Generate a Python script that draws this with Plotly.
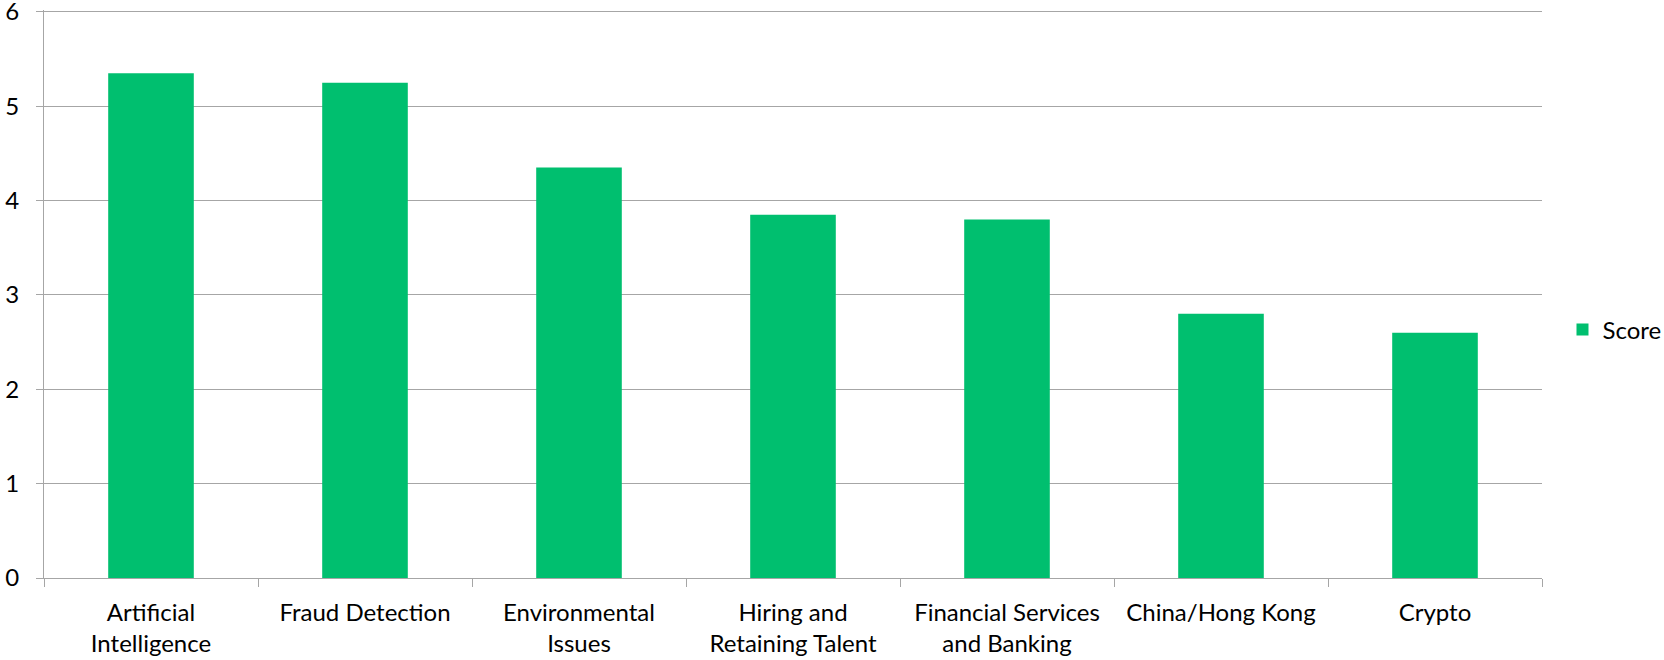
import plotly.graph_objects as go

categories = ["Artificial<br>Intelligence", "Fraud Detection", "Environmental<br>Issues",
              "Hiring and<br>Retaining Talent", "Financial Services<br>and Banking",
              "China/Hong Kong", "Crypto"]
scores = [5.35, 5.25, 4.35, 3.85, 3.8, 2.8, 2.6]
y_ticks = [0, 1, 2, 3, 4, 5, 6]

FONT = "Lato, Calibri, Carlito, sans-serif"
FS = 24

fig = go.Figure()
fig.add_trace(go.Bar(x=categories, y=scores, name="Score",
                     marker=dict(color="#00BF6F", line=dict(width=0)),
                     showlegend=True))

fig.update_layout(
    width=1664, height=660,
    margin=dict(l=44, r=122, t=10, b=82, autoexpand=False),
    paper_bgcolor="white", plot_bgcolor="white",
    bargap=0.6,
    font=dict(family=FONT, size=FS, color="#000000"),
    showlegend=True,
    legend=dict(xref="container", yref="container", x=0.939, y=0.5,
                xanchor="left", yanchor="middle",
                font=dict(family=FONT, size=FS, color="#000000"),
                bgcolor="rgba(0,0,0,0)"),
    xaxis=dict(type="category", showgrid=False, showline=True, linecolor="#A6A6A6",
               linewidth=1, ticks="outside", tickson="boundaries", ticklen=8,
               tickcolor="#A6A6A6", tickfont=dict(family=FONT, size=FS),
               ticklabelstandoff=13, automargin=False),
    yaxis=dict(range=[0, 6.02], tickvals=y_ticks, showgrid=True, gridcolor="#A6A6A6",
               gridwidth=1, showline=True, linecolor="#A6A6A6", linewidth=1,
               ticks="outside", ticklen=7, tickcolor="#A6A6A6",
               tickfont=dict(family=FONT, size=FS), zeroline=False,
               ticklabelstandoff=12, automargin=False, ticklabeloverflow="allow"),
)

fig.write_html("out.html")
